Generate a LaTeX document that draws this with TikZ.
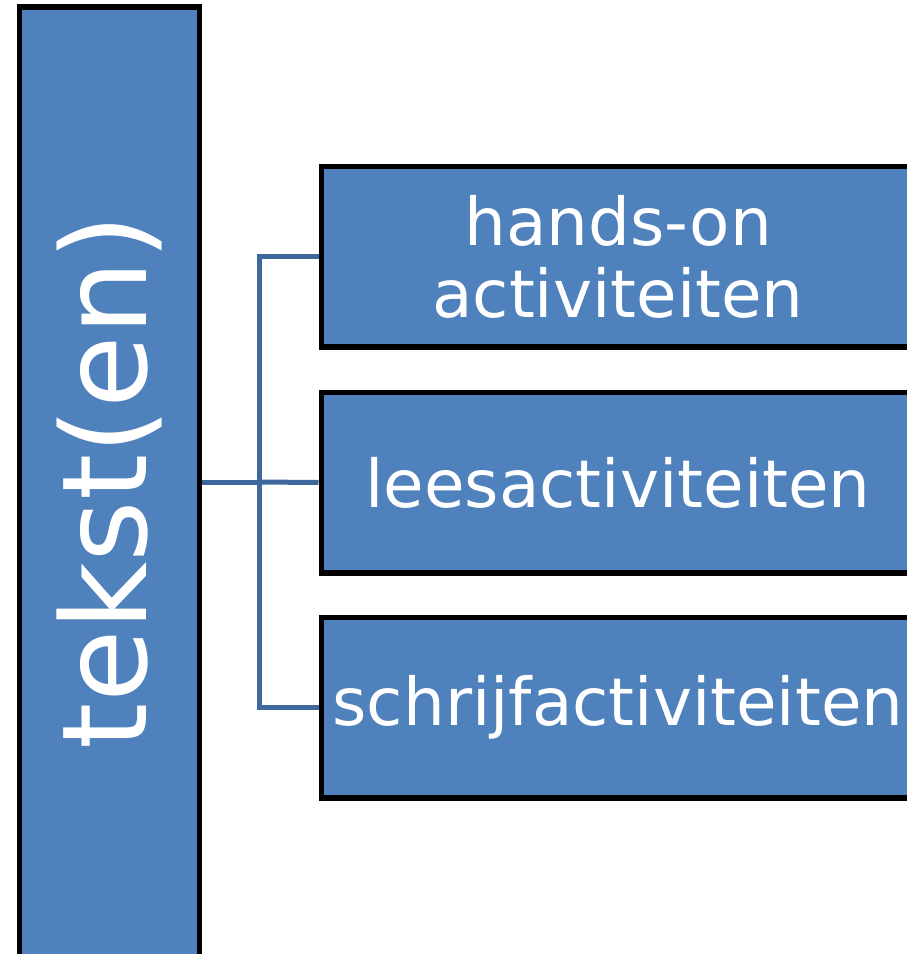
\documentclass[tikz,border=0pt]{standalone}
\usepackage{fontspec}
\setmainfont{DejaVu Sans}
\definecolor{boxblue}{HTML}{4F81BD}
\definecolor{linkblue}{RGB}{62,104,155}
\begin{document}
\begin{tikzpicture}[x=1pt,y=1pt,
  blockbox/.style={draw=black,fill=boxblue,line width=5.5pt,text=white,inner sep=0pt,align=center},
  sidebox/.style={blockbox,minimum width=593.5pt,minimum height=180.5pt,font=\fontsize{66}{72}\selectfont},
  link/.style={draw=linkblue,line width=5pt}]
\useasboundingbox (0,0) rectangle (907,-954);
\node[blockbox,rotate=90,minimum width=950pt,minimum height=180pt,font=\fontsize{118}{130}\selectfont] (main) at (109.5,-482) {tekst(en)};
\node[sidebox,anchor=west] (b1) at (318.5,-256.75) {hands-on\\activiteiten};
\node[sidebox,anchor=west] (b2) at (318.5,-482.5) {leesactiviteiten};
\node[sidebox,anchor=west] (b3) at (318.5,-707.75) {schrijfactiviteiten};
\coordinate (j) at (259,-482);
\draw[link] (main.south |- j) -- (j);
\draw[link] (b1.west) -| (j) |- (b3.west);
\draw[link] (j) -- (b2.west);
\end{tikzpicture}
\end{document}
